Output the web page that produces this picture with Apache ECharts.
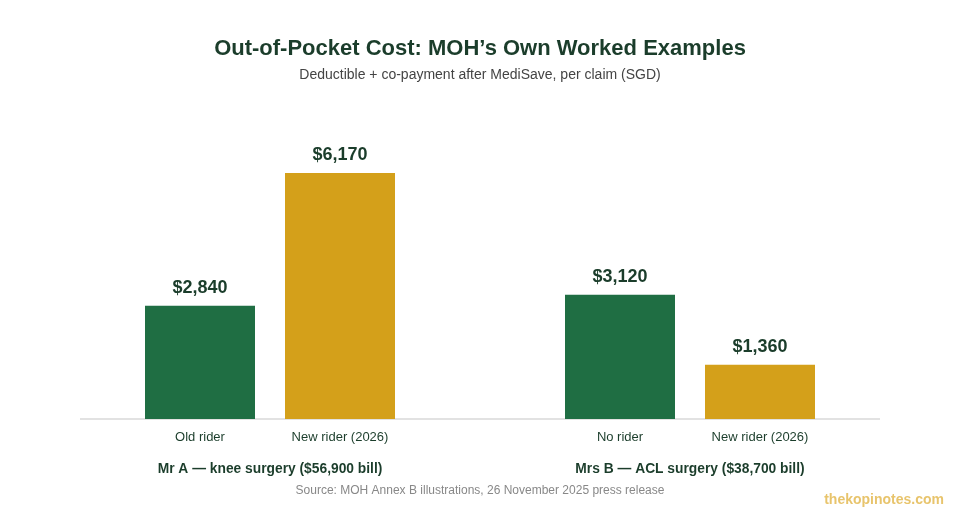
<!DOCTYPE html>
<html>
<head>
<meta charset="utf-8">
<script src="https://cdn.jsdelivr.net/npm/echarts@6/dist/echarts.min.js"></script>
<style>
  html, body { margin: 0; padding: 0; background: #fff; }
  #chart { width: 960px; height: 520px; }
</style>
</head>
<body>
<div id="chart"></div>
<script>
// bars (an empty slot keeps the gap between the two cases)
var categories = ['Old rider', 'New rider (2026)', '', 'No rider', 'New rider (2026)'];
var costs = [2840, 6170, null, 3120, 1360];
var barKinds = ['old', 'new', null, 'old', 'new'];
var groups = ['Mr A — knee surgery ($56,900 bill)', 'Mrs B — ACL surgery ($38,700 bill)'];
var groupMembers = [[0, 1], [3, 4]];

var GREEN = '#1f6e43';
var GOLD = '#d4a01a';
var INK = '#1b3d2b';

var myChart = echarts.init(document.getElementById('chart'));

var option = {
  animation: false,
  textStyle: { fontFamily: 'Liberation Sans, Arial, sans-serif' },
  title: {
    text: 'Out-of-Pocket Cost: MOH’s Own Worked Examples',
    subtext: 'Deductible + co-payment after MediSave, per claim (SGD)',
    left: 'center',
    top: 33,
    itemGap: 8,
    textStyle: { color: INK, fontSize: 22, fontWeight: 'bold' },
    subtextStyle: { color: '#444', fontSize: 14 }
  },
  grid: { left: 130, right: 130, top: 140, bottom: 101 },
  xAxis: {
    type: 'category',
    data: categories,
    axisLine: { show: false },
    axisTick: { show: false },
    axisLabel: { color: INK, fontSize: 13, margin: 12 }
  },
  yAxis: {
    type: 'value',
    min: 0,
    max: 7000,
    show: false
  },
  series: [{
    type: 'bar',
    barWidth: 110,
    data: costs.map(function (v, i) {
      return {
        value: v,
        itemStyle: { color: barKinds[i] === 'new' ? GOLD : GREEN }
      };
    }),
    label: {
      show: true,
      position: 'top',
      distance: 9,
      color: INK,
      fontSize: 18,
      fontWeight: 'bold',
      formatter: function (p) {
        return p.value == null ? '' : '$' + p.value.toLocaleString('en-US');
      }
    }
  }]
};
myChart.setOption(option);

// baseline and group captions placed from the axis scales
var y0 = myChart.convertToPixel({ gridIndex: 0 }, [0, 0])[1];
var elements = [{
  type: 'line',
  shape: { x1: 80, y1: y0, x2: 880, y2: y0 },
  style: { stroke: '#e2e2e2', lineWidth: 2 },
  z: 0
}];
groups.forEach(function (g, k) {
  var a = myChart.convertToPixel({ gridIndex: 0 }, [groupMembers[k][0], 0])[0];
  var b = myChart.convertToPixel({ gridIndex: 0 }, [groupMembers[k][1], 0])[0];
  elements.push({
    type: 'text',
    x: (a + b) / 2,
    y: y0 + 50,
    style: {
      text: g, fill: INK, font: 'bold 13.8px Liberation Sans, Arial, sans-serif',
      align: 'center', verticalAlign: 'middle'
    }
  });
});
elements.push({
  type: 'text',
  x: 480, y: 491,
  style: {
    text: 'Source: MOH Annex B illustrations, 26 November 2025 press release',
    fill: '#888', font: '12px Liberation Sans, Arial, sans-serif',
    align: 'center', verticalAlign: 'middle'
  }
});
elements.push({
  type: 'text',
  x: 944, y: 500,
  style: {
    text: 'thekopinotes.com', fill: '#e8c46c',
    font: 'bold 14px Liberation Sans, Arial, sans-serif',
    align: 'right', verticalAlign: 'middle'
  }
});
myChart.setOption({ graphic: { elements: elements } });

window.onresize = function () {
  myChart.resize();
};
</script>
</body>
</html>
